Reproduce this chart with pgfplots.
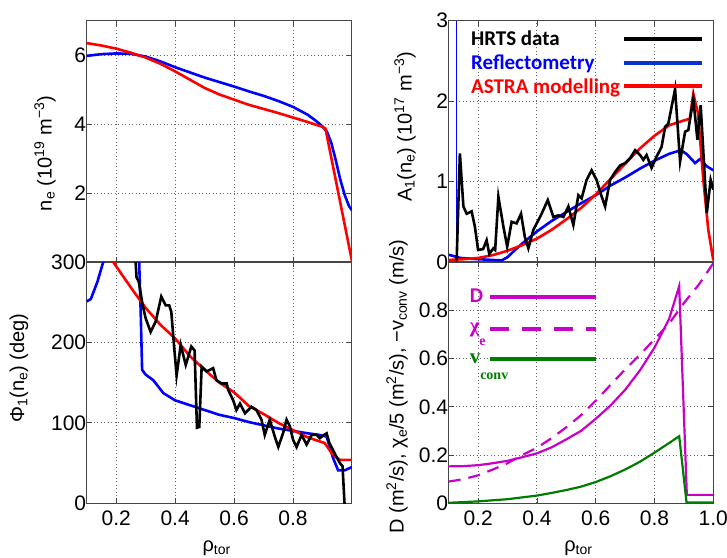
\documentclass[border=0pt]{standalone}
\usepackage{fontspec}
\setmainfont{Liberation Sans}
\newfontfamily\legfont{Carlito}
\newfontfamily\serfont{Liberation Serif}
\usepackage{pgfplots}
\pgfplotsset{compat=1.18}

\definecolor{mag}{RGB}{200,0,200}
\definecolor{dgreen}{RGB}{0,125,0}
\definecolor{axgray}{RGB}{70,70,70}
\definecolor{legblue}{RGB}{10,50,210}

\pgfplotsset{
  panel/.style={
    scale only axis,
    height=241.3pt,
    xmin=0.1, xmax=1.0,
    axis line style={axgray,line width=1pt},
    major tick style={axgray,line width=0.8pt},
    major tick length=5pt,
    tick align=inside,
    xmajorgrids=true, ymajorgrids=true,
    grid style={black!60,line width=1pt,dash pattern=on 1pt off 2.5pt},
    /pgf/number format/assume math mode=true,
    tick label style={font=\fontsize{21}{24}\selectfont},
    xticklabel style={yshift=-4pt},
    yticklabel style={xshift=3pt},
    label style={font=\fontsize{20}{24}\selectfont},
    ylabel style={anchor=center},
    xlabel style={at={(axis description cs:0.49,-0.14)},anchor=north},
  },
  leftp/.style={panel,width=265.3pt,xtick={0.2,0.4,0.6,0.8}},
  rightp/.style={panel,width=264.6pt,xtick={0.2,0.4,0.6,0.8,1.0}},
  thick line/.style={line width=2.6pt},
}

\begin{document}
\begin{tikzpicture}
\useasboundingbox (0,0) rectangle (727pt,557pt);

% ---- top left: density profile
\begin{axis}[leftp, at={(86.7pt,295pt)}, anchor=south west,
  ymin=0, ymax=7, ytick={2,4,6}, xticklabels={},
  ylabel={n\textsubscript{e} (10\textsuperscript{19} m\textsuperscript{−3})},
  ylabel style={at={(axis description cs:-0.157,0.45)}},
]
\addplot[blue,thick line] coordinates {
(0.1,5.98) (0.15,6.03) (0.2,6.05) (0.25,6.04) (0.3,5.96) (0.35,5.82) (0.4,5.65)
(0.45,5.50) (0.5,5.35) (0.55,5.22) (0.6,5.09) (0.65,4.95) (0.7,4.82) (0.75,4.67)
(0.8,4.50) (0.85,4.27) (0.88,4.08) (0.9,3.93) (0.915,3.78) (0.93,3.45) (0.945,2.95)
(0.96,2.40) (0.975,1.95) (0.99,1.62) (1.0,1.50)
};
\addplot[red,thick line] coordinates {
(0.1,6.35) (0.15,6.28) (0.2,6.19) (0.25,6.07) (0.3,5.93) (0.35,5.75) (0.4,5.53)
(0.45,5.29) (0.5,5.05) (0.55,4.86) (0.6,4.71) (0.65,4.56) (0.7,4.44) (0.75,4.32)
(0.8,4.19) (0.85,4.06) (0.9,3.92) (0.91,3.87) (1.0,0.02)
};
\end{axis}

% ---- bottom left: phase
\begin{axis}[leftp, at={(86.7pt,53.7pt)}, anchor=south west,
  ymin=0, ymax=300, ytick={0,100,200,300},
  xticklabels={0.2,0.4,0.6,0.8},
  xlabel={ρ\textsubscript{tor}},
  ylabel={Φ\textsubscript{1}(n\textsubscript{e}) (deg)},
  ylabel style={at={(axis description cs:-0.255,0.56)}},
]
\addplot[blue,thick line] coordinates {
(0.1,251) (0.114,254) (0.136,275) (0.156,300) (0.17,340) (0.27,340) (0.278,300)
(0.283,240) (0.288,166) (0.3,160) (0.326,153) (0.36,137) (0.4,128) (0.45,122)
(0.5,116) (0.55,110) (0.6,106) (0.65,101) (0.7,97) (0.75,93) (0.8,90) (0.85,87)
(0.89,85) (0.914,83) (0.936,56) (0.953,41) (0.975,41) (1.0,45)
};
\addplot[red,thick line] coordinates {
(0.17,330) (0.19,300) (0.22,284) (0.26,263) (0.3,243) (0.35,222) (0.4,205)
(0.45,183) (0.5,166) (0.55,150) (0.6,138) (0.65,121) (0.7,111) (0.75,100)
(0.8,91) (0.85,82) (0.89,77) (0.907,75) (0.936,60) (0.959,54) (1.0,54)
};
\addplot[black,thick line] coordinates {
(0.262,340) (0.266,300) (0.269,281) (0.277,275) (0.289,248) (0.3,230) (0.317,213)
(0.334,226) (0.353,257) (0.368,246) (0.38,246) (0.387,238) (0.396,197) (0.405,159)
(0.419,197) (0.436,172) (0.455,195) (0.466,190) (0.474,94) (0.482,95) (0.49,170)
(0.507,164) (0.529,168) (0.54,153) (0.558,149) (0.575,149) (0.58,141) (0.597,128)
(0.608,116) (0.62,124) (0.637,112) (0.659,120) (0.676,116) (0.693,104) (0.704,85)
(0.721,104) (0.738,83) (0.75,70) (0.766,87) (0.778,104) (0.789,96) (0.8,79)
(0.812,70) (0.829,85) (0.846,73) (0.863,85) (0.88,85) (0.891,81) (0.905,85)
(0.914,87) (0.923,75) (0.936,66) (0.947,58) (0.959,50) (0.968,46) (0.974,4) (0.976,-10)
};
\end{axis}

% ---- top right: amplitude
\begin{axis}[rightp, at={(448.7pt,295pt)}, anchor=south west,
  ymin=0, ymax=3, ytick={0,1,2,3}, xticklabels={},
  ylabel={A\textsubscript{1}(n\textsubscript{e}) (10\textsuperscript{17} m\textsuperscript{−3})},
  ylabel style={at={(axis description cs:-0.165,0.56)}},
  legend plot pos=right,
  legend image code/.code={\draw[#1,line width=4pt] (0pt,0pt) -- (78pt,0pt);},
  legend style={at={(axis description cs:0.065,0.975)}, anchor=north west,
    draw=none, fill=none, row sep=3.5pt,
    font=\legfont\bfseries\fontsize{21}{24}\selectfont},
  legend cell align=left,
]
\addlegendimage{black}
\addlegendentry{\textcolor{black}{HRTS data}}
\addlegendimage{legblue}
\addlegendentry{\textcolor{blue}{Reflectometry}}
\addlegendimage{red}
\addlegendentry{\textcolor{red}{ASTRA modelling}}
\addplot[blue,line width=0.8pt,forget plot] coordinates {(0.127,0) (0.127,3)};
\addplot[blue,thick line,forget plot] coordinates {
(0.1,0.09) (0.12,0.07) (0.14,0.05) (0.2,0.035) (0.25,0.025) (0.28,0.02) (0.3,0.06)
(0.32,0.13) (0.35,0.23) (0.4,0.38) (0.45,0.51) (0.5,0.62) (0.55,0.73) (0.6,0.83)
(0.65,0.95) (0.7,1.05) (0.75,1.16) (0.8,1.26) (0.85,1.345) (0.89,1.39) (0.91,1.34)
(0.938,1.23) (0.955,1.28) (0.978,1.19) (1.0,1.14)
};
\addplot[red,thick line,forget plot] coordinates {
(0.1,0.025) (0.15,0.035) (0.2,0.05) (0.25,0.085) (0.3,0.14) (0.35,0.21) (0.4,0.29)
(0.45,0.40) (0.5,0.53) (0.55,0.67) (0.6,0.84) (0.65,1.03) (0.7,1.22) (0.75,1.41)
(0.8,1.57) (0.85,1.70) (0.9,1.76) (0.92,1.78) (0.932,2.09) (0.948,1.85)
(0.966,1.02) (0.983,0.40) (1.0,0.02)
};
\addplot[black,thick line,forget plot] coordinates {
(0.127,0.02) (0.138,1.35) (0.15,0.69) (0.161,0.60) (0.178,0.63) (0.189,0.44) (0.2,0.15)
(0.217,0.16) (0.229,0.27) (0.238,0.10) (0.252,0.17) (0.258,0.15) (0.269,0.81)
(0.286,0.44) (0.299,0.19) (0.314,0.50) (0.331,0.48) (0.346,0.60) (0.359,0.31)
(0.371,0.17) (0.388,0.40) (0.405,0.52) (0.416,0.60) (0.437,0.77) (0.456,0.56)
(0.473,0.58) (0.49,0.56) (0.507,0.69) (0.524,0.46) (0.541,0.83) (0.552,0.79)
(0.569,1.02) (0.586,1.14) (0.603,1.02) (0.617,0.85) (0.632,0.69) (0.649,1.02)
(0.666,1.12) (0.683,1.20) (0.7,1.23) (0.717,1.29) (0.734,1.39) (0.751,1.33)
(0.762,1.27) (0.773,1.33) (0.79,1.17) (0.807,1.31) (0.824,1.43) (0.836,1.68)
(0.847,1.72) (0.870,2.15) (0.887,1.25) (0.904,1.62) (0.915,1.64) (0.932,2.03)
(0.946,1.52) (0.957,1.95) (0.978,0.61) (0.991,1.02) (1.0,0.9)
};
\end{axis}

% ---- bottom right: transport coefficients
\begin{axis}[rightp, at={(448.7pt,53.7pt)}, anchor=south west,
  ymin=0, ymax=1, ytick={0,0.2,0.4,0.6,0.8},
  yticklabels={0,0.2,0.4,0.6,0.8},
  xticklabels={0.2,0.4,0.6,0.8,1.0},
  xlabel={ρ\textsubscript{tor}},
  ylabel={D (m\textsuperscript{2}/s), χ\textsubscript{e}/5 (m\textsuperscript{2}/s), −v\textsubscript{conv} (m/s)},
  ylabel style={at={(axis description cs:-0.195,0.484)}},
  legend plot pos=right,
  legend image code/.code={\draw[#1,line width=4pt] (0pt,0pt) -- (106pt,0pt);},
  legend style={at={(axis description cs:0.06,0.905)}, anchor=north west,
    draw=none, fill=none, row sep=15pt,
    font=\fontsize{21}{24}\selectfont},
  legend cell align=left,
]
\addlegendimage{mag}
\addlegendentry{\textcolor{mag}{\legfont\bfseries D}}
\addlegendimage{mag,dash pattern=on 19pt off 13pt}
\addlegendentry{\textcolor{mag}{\serfont\bfseries χ\raisebox{-0.6em}{\fontsize{14}{14}\selectfont e}}}
\addlegendimage{dgreen}
\addlegendentry{\textcolor{dgreen}{\serfont\bfseries v\rlap{\raisebox{-0.8em}{\fontsize{14}{14}\selectfont conv}}}}
\addplot[mag,line width=2.2pt,forget plot] coordinates {
(0.1,0.153) (0.15,0.154) (0.2,0.158) (0.25,0.166) (0.3,0.176) (0.35,0.191)
(0.4,0.207) (0.45,0.232) (0.5,0.265) (0.55,0.30) (0.6,0.35) (0.65,0.405)
(0.7,0.47) (0.75,0.55) (0.8,0.645) (0.85,0.765) (0.884,0.90) (0.91,0.035) (1.0,0.035)
};
\addplot[mag,line width=2.2pt,dash pattern=on 12pt off 8pt,forget plot] coordinates {
(0.1,0.09) (0.15,0.10) (0.2,0.116) (0.25,0.14) (0.3,0.166) (0.35,0.20) (0.4,0.23)
(0.45,0.27) (0.5,0.315) (0.55,0.365) (0.6,0.425) (0.65,0.49) (0.7,0.555)
(0.75,0.615) (0.8,0.68) (0.85,0.745) (0.9,0.83) (0.95,0.905) (1.0,0.995)
};
\addplot[dgreen,line width=2.2pt,forget plot] coordinates {
(0.1,0.002) (0.2,0.008) (0.3,0.017) (0.4,0.032) (0.45,0.043) (0.5,0.055)
(0.55,0.069) (0.6,0.088) (0.65,0.112) (0.7,0.14) (0.75,0.172) (0.8,0.21)
(0.85,0.25) (0.884,0.278) (0.909,0.003) (1.0,0.003)
};
\end{axis}
\end{tikzpicture}
\end{document}
